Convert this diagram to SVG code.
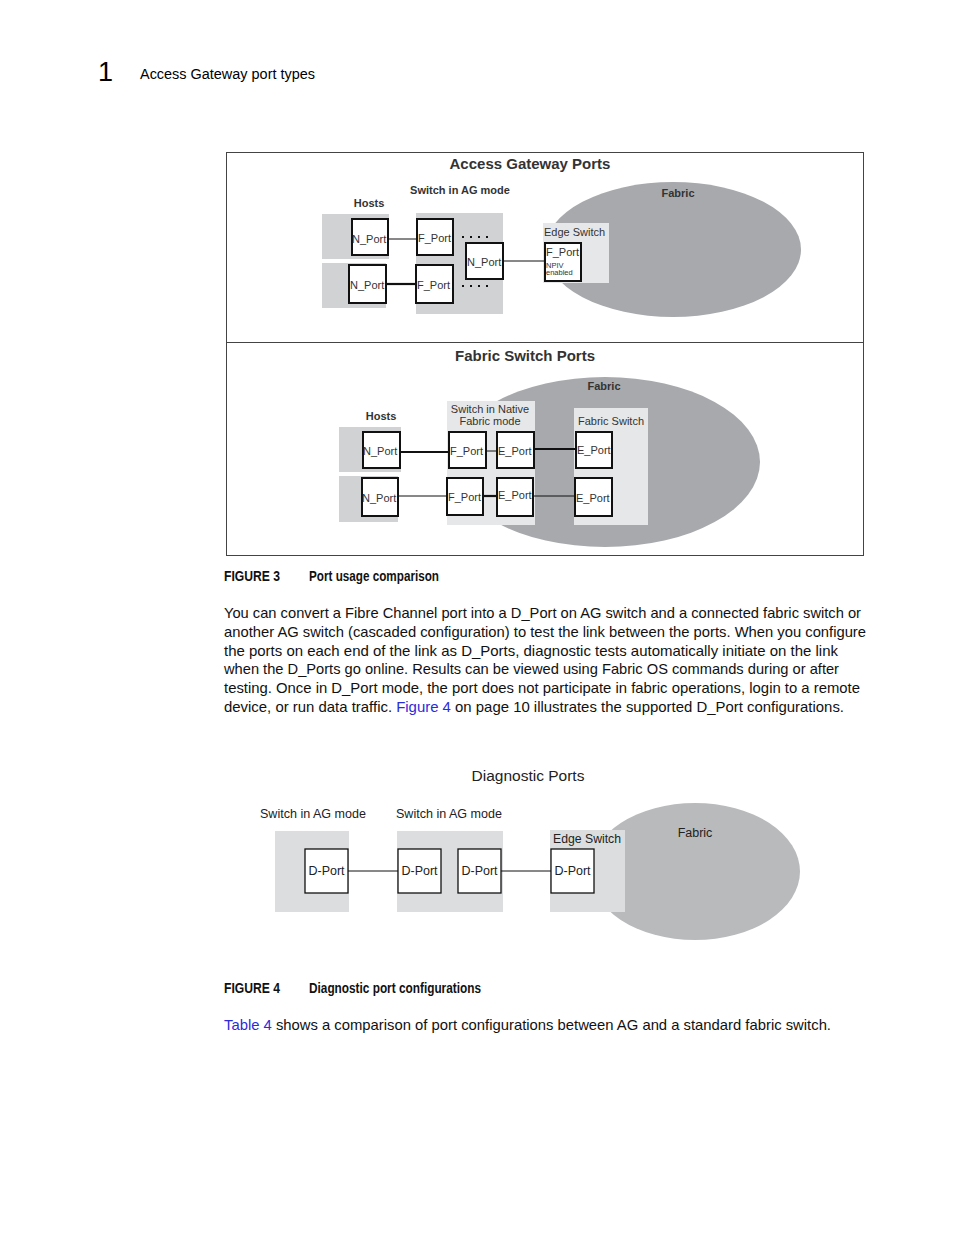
<svg xmlns="http://www.w3.org/2000/svg" width="954" height="1235" viewBox="0 0 954 1235">
<style>
text{font-family:"Liberation Sans",Arial,sans-serif;fill:#333}
.b{font-weight:bold}
.hd{fill:#000}
.body{font-size:14.5px;fill:#111}
.cap{font-size:15px;font-weight:bold;fill:#111}
.pl{font-size:11px;fill:#333}
.sm{font-size:11px}
.port{fill:#fff;stroke:#111;stroke-width:2}
.dport{fill:#fff;stroke:#111;stroke-width:1.3}
.hostbg{fill:#d1d2d4}
.swbg{fill:#e6e7e8}
.dbg{fill:#dcdddf}
.fab{fill:#a7a9ac}
.ln{stroke:#111;stroke-width:1;fill:none}
.lt{stroke:#111;stroke-width:2.2;fill:none}
.dot{stroke:#111;stroke-width:2;stroke-dasharray:2 6;fill:none}
.d{font-size:12.5px;fill:#222}
.link{fill:#2b2bdb}
</style>
<rect width="954" height="1235" fill="#fff"/>

<!-- page header -->
<g id="header">
<text x="98" y="81" class="hd" style="font-size:27px">1</text>
<text x="140" y="79" class="hd" style="font-size:14px" textLength="175" lengthAdjust="spacingAndGlyphs">Access Gateway port types</text>
</g>

<!-- Figure 3 frame -->
<g id="fig3-frame">
<rect x="226.5" y="152.5" width="637" height="403" fill="none" stroke="#444" stroke-width="1"/>
<line x1="226.5" y1="342.5" x2="863.5" y2="342.5" stroke="#444" stroke-width="1"/>
</g>

<!-- Top: Access Gateway Ports -->
<g id="ag-title"><text x="530" y="169" text-anchor="middle" class="b" style="font-size:15px">Access Gateway Ports</text></g>
<g id="ag-fabric">
<ellipse cx="673" cy="249.5" rx="128" ry="67.5" class="fab"/>
<text x="678" y="197" text-anchor="middle" class="b sm">Fabric</text>
</g>
<g id="ag-hosts">
<text x="369" y="207" text-anchor="middle" class="b sm">Hosts</text>
<rect x="322" y="214" width="67" height="45" class="hostbg"/>
<rect x="322" y="263" width="64" height="45" class="hostbg"/>
</g>
<g id="ag-switch">
<text x="460" y="194" text-anchor="middle" class="b sm">Switch in AG mode</text>
<rect x="416" y="213" width="87" height="101" class="hostbg"/>
</g>
<g id="ag-edge">
<rect x="543" y="223" width="66" height="60" class="swbg"/>
<text x="544" y="236" class="pl">Edge Switch</text>
</g>
<g id="ag-nport1"><rect x="352" y="219" width="36" height="36" class="port"/><text x="352" y="243" class="pl">N_Port</text></g>
<g id="ag-nport2"><rect x="349" y="265" width="37" height="38" class="port"/><text x="350" y="289" class="pl">N_Port</text></g>
<g id="ag-fport1"><rect x="417" y="219" width="36" height="36" class="port"/><text x="418" y="242" class="pl">F_Port</text></g>
<g id="ag-fport2"><rect x="416" y="265" width="37" height="38" class="port"/><text x="417" y="289" class="pl">F_Port</text></g>
<g id="ag-nport3"><rect x="466" y="243" width="37" height="36" class="port"/><text x="467" y="266" class="pl">N_Port</text></g>
<g id="ag-edge-fport">
<rect x="545" y="243" width="36" height="38" class="port"/>
<text x="546" y="256" class="pl">F_Port</text>
<text x="546" y="268" style="font-size:7.5px">NPIV</text>
<text x="546" y="275" style="font-size:7.5px">enabled</text>
</g>

<!-- Bottom: Fabric Switch Ports -->
<g id="fs-title"><text x="525" y="361" text-anchor="middle" class="b" style="font-size:15px">Fabric Switch Ports</text></g>
<g id="fs-fabric">
<ellipse cx="605" cy="462" rx="155" ry="85" class="fab"/>
<text x="604" y="390" text-anchor="middle" class="b sm">Fabric</text>
</g>
<g id="fs-hosts">
<text x="381" y="420" text-anchor="middle" class="b sm">Hosts</text>
<rect x="339" y="427" width="62" height="45" class="hostbg"/>
<rect x="339" y="476" width="59" height="46" class="hostbg"/>
</g>
<g id="fs-native">
<rect x="447" y="401" width="88" height="124" class="swbg"/>
<text x="490" y="413" text-anchor="middle" class="pl">Switch in Native</text>
<text x="490" y="425" text-anchor="middle" class="pl">Fabric mode</text>
</g>
<g id="fs-fabricswitch">
<rect x="574" y="408" width="74" height="117" class="swbg"/>
<text x="578" y="425" class="pl">Fabric Switch</text>
</g>
<g id="fs-nport1"><rect x="363" y="432" width="37" height="36" class="port"/><text x="363" y="455" class="pl">N_Port</text></g>
<g id="fs-nport2"><rect x="362" y="478" width="36" height="38" class="port"/><text x="362" y="502" class="pl">N_Port</text></g>
<g id="fs-fport1"><rect x="449" y="432" width="37" height="36" class="port"/><text x="450" y="455" class="pl">F_Port</text></g>
<g id="fs-eport1"><rect x="497" y="432" width="37" height="36" class="port"/><text x="498" y="455" class="pl">E_Port</text></g>
<g id="fs-fport2"><rect x="447" y="478" width="36" height="37" class="port"/><text x="448" y="501" class="pl">F_Port</text></g>
<g id="fs-eport2"><rect x="497" y="478" width="36" height="38" class="port"/><text x="498" y="499" class="pl">E_Port</text></g>
<g id="fs-eport3"><rect x="576" y="432" width="36" height="36" class="port"/><text x="577" y="454" class="pl">E_Port</text></g>
<g id="fs-eport4"><rect x="575" y="478" width="37" height="38" class="port"/><text x="576" y="502" class="pl">E_Port</text></g>

<!-- Figure 4: Diagnostic Ports -->
<g id="dp-title"><text x="528" y="781" text-anchor="middle" style="font-size:15.5px;fill:#222">Diagnostic Ports</text></g>
<g id="dp-fabric">
<ellipse cx="695" cy="871.5" rx="105" ry="68.5" fill="#b9babc"/>
<text x="695" y="837" text-anchor="middle" class="d">Fabric</text>
</g>
<g id="dp-ag1">
<text x="260" y="818" class="d" textLength="106" lengthAdjust="spacingAndGlyphs">Switch in AG mode</text>
<rect x="275" y="831" width="74" height="81" class="dbg"/>
</g>
<g id="dp-ag2">
<text x="396" y="818" class="d" textLength="106" lengthAdjust="spacingAndGlyphs">Switch in AG mode</text>
<rect x="397" y="831" width="106" height="81" class="dbg"/>
</g>
<g id="dp-edge">
<rect x="550" y="830" width="75" height="82" class="dbg"/>
<text x="553" y="843" class="d" textLength="68" lengthAdjust="spacingAndGlyphs">Edge Switch</text>
</g>
<g id="dp-port1"><rect x="305" y="849" width="43" height="44" class="dport"/><text x="326.5" y="875" text-anchor="middle" class="d">D-Port</text></g>
<g id="dp-port2"><rect x="398" y="849" width="43" height="44" class="dport"/><text x="419.5" y="875" text-anchor="middle" class="d">D-Port</text></g>
<g id="dp-port3"><rect x="458" y="849" width="43" height="44" class="dport"/><text x="479.5" y="875" text-anchor="middle" class="d">D-Port</text></g>
<g id="dp-port4"><rect x="551" y="849" width="43" height="44" class="dport"/><text x="572.5" y="875" text-anchor="middle" class="d">D-Port</text></g>

<!-- connectors -->
<g id="connectors">
<line x1="388" y1="239" x2="417" y2="239" class="ln"/>
<line x1="386" y1="284" x2="416" y2="284" class="lt"/>
<line x1="462" y1="237" x2="490" y2="237" class="dot"/>
<line x1="462" y1="286" x2="490" y2="286" class="dot"/>
<line x1="503" y1="261" x2="545" y2="261" class="ln"/>
<line x1="400" y1="452" x2="449" y2="452" class="lt"/>
<line x1="486" y1="451" x2="497" y2="451" class="ln"/>
<line x1="534" y1="449" x2="576" y2="449" class="lt"/>
<line x1="398" y1="496" x2="447" y2="496" class="ln"/>
<line x1="483" y1="496" x2="497" y2="496" class="lt"/>
<line x1="533" y1="496" x2="575" y2="496" class="ln"/>
<line x1="348" y1="871" x2="398" y2="871" class="ln"/>
<line x1="501" y1="871" x2="551" y2="871" class="ln"/>
</g>

<!-- captions and body text -->
<g id="caption3">
<text x="224" y="581" class="cap" textLength="56" lengthAdjust="spacingAndGlyphs">FIGURE 3</text>
<text x="309" y="581" class="cap" textLength="130" lengthAdjust="spacingAndGlyphs">Port usage comparison</text>
</g>
<g id="body">
<text x="224" y="618" class="body" textLength="637" lengthAdjust="spacingAndGlyphs">You can convert a Fibre Channel port into a D_Port on AG switch and a connected fabric switch or</text>
<text x="224" y="637" class="body" textLength="642" lengthAdjust="spacingAndGlyphs">another AG switch (cascaded configuration) to test the link between the ports. When you configure</text>
<text x="224" y="656" class="body" textLength="614" lengthAdjust="spacingAndGlyphs">the ports on each end of the link as D_Ports, diagnostic tests automatically initiate on the link</text>
<text x="224" y="674" class="body" textLength="615" lengthAdjust="spacingAndGlyphs">when the D_Ports go online. Results can be viewed using Fabric OS commands during or after</text>
<text x="224" y="693" class="body" textLength="636" lengthAdjust="spacingAndGlyphs">testing. Once in D_Port mode, the port does not participate in fabric operations, login to a remote</text>
<text x="224" y="712" class="body" textLength="620" lengthAdjust="spacingAndGlyphs">device, or run data traffic. <tspan class="link">Figure 4</tspan> on page 10 illustrates the supported D_Port configurations.</text>
</g>
<g id="caption4">
<text x="224" y="993" class="cap" textLength="56" lengthAdjust="spacingAndGlyphs">FIGURE 4</text>
<text x="309" y="993" class="cap" textLength="172" lengthAdjust="spacingAndGlyphs">Diagnostic port configurations</text>
</g>
<g id="body2">
<text x="224" y="1030" class="body" textLength="607" lengthAdjust="spacingAndGlyphs"><tspan class="link">Table 4</tspan> shows a comparison of port configurations between AG and a standard fabric switch.</text>
</g>
</svg>
